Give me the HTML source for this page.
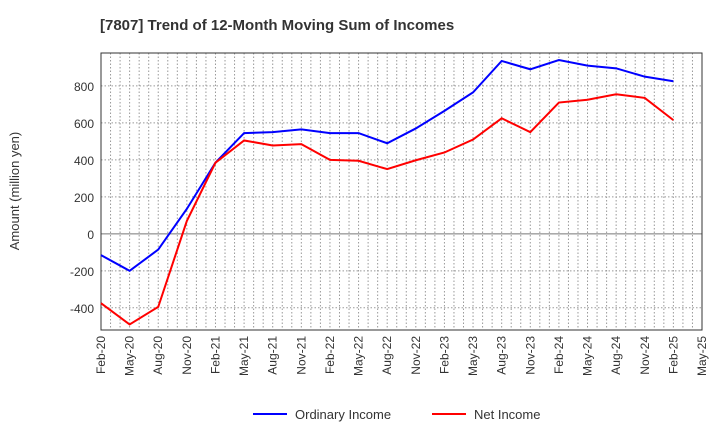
<!DOCTYPE html>
<html><head><meta charset="utf-8"><style>
body{margin:0;background:#fff;font-family:"Liberation Sans",sans-serif}
</style></head><body>
<svg width="720" height="440" xmlns="http://www.w3.org/2000/svg" font-family="Liberation Sans, sans-serif">
<text x="100" y="30" font-size="15" font-weight="bold" fill="#333">[7807]  Trend of 12-Month Moving Sum of Incomes</text>
<g id="grid"></g>
<g id="axes"></g>
<g id="series"></g>
<text transform="translate(19,191) rotate(-90)" text-anchor="middle" font-size="13" fill="#333">Amount (million yen)</text>
<g>
<line x1="253" y1="414" x2="287" y2="414" stroke="#0000ff" stroke-width="2"/>
<text x="295" y="419" font-size="13" fill="#333">Ordinary Income</text>
<line x1="432" y1="414" x2="466" y2="414" stroke="#ff0000" stroke-width="2"/>
<text x="474" y="419" font-size="13" fill="#333">Net Income</text>
</g>
</svg>
<script>
const categories=["Feb-20","May-20","Aug-20","Nov-20","Feb-21","May-21","Aug-21","Nov-21","Feb-22","May-22","Aug-22","Nov-22","Feb-23","May-23","Aug-23","Nov-23","Feb-24","May-24","Aug-24","Nov-24","Feb-25","May-25"];
const ordinaryIncome=[-115,-200,-85,135,385,545,550,565,545,545,490,570,665,765,935,890,940,910,895,850,825];
const netIncome=[-375,-490,-395,70,385,505,478,485,400,395,350,398,440,510,625,550,710,725,755,735,615];
const yTicks=[-400,-200,0,200,400,600,800];
const NS="http://www.w3.org/2000/svg";
const L=101,R=702,T=53,B=330,yMin=-520,yMax=978;
const x=i=>L+(R-L)*i/(categories.length-1);
const y=v=>B-(v-yMin)/(yMax-yMin)*(B-T);
function mk(p,t,a){const e=document.createElementNS(NS,t);for(const k in a)e.setAttribute(k,a[k]);p.appendChild(e);return e;}
const grid=document.getElementById('grid'),axes=document.getElementById('axes'),ser=document.getElementById('series');
for(let m=1;m<(categories.length-1)*3;m++){const xx=L+(R-L)*m/((categories.length-1)*3);
const g=mk(grid,'line',{x1:xx,x2:xx,y1:T,y2:B,stroke:'#999','stroke-dasharray':'1.5,2','stroke-width':1});

}
yTicks.forEach(v=>{const g=mk(grid,'line',{x1:L,x2:R,y1:y(v),y2:y(v),stroke:v===0?'#777':'#999','stroke-dasharray':v===0?'':'1.5,2','stroke-width':1});


const t=mk(axes,'text',{x:L-7,y:y(v)+5,'text-anchor':'end','font-size':12,fill:'#333'});t.textContent=v;

});
const fr=mk(axes,'rect',{x:L,y:T,width:R-L,height:B-T,fill:'none',stroke:'#333','stroke-width':1});


categories.forEach((c,i)=>{const t=mk(axes,'text',{transform:`translate(${x(i)+4},${B+6}) rotate(-90)`,'text-anchor':'end','font-size':12,fill:'#333'});t.textContent=c;

});
function line(d,col,name){const p=mk(ser,'polyline',{points:d.map((v,i)=>x(i)+','+y(v)).join(' '),fill:'none',stroke:col,'stroke-width':2});

}
line(ordinaryIncome,'#0000ff','ordinary-income-line');
line(netIncome,'#ff0000','net-income-line');
</script>
</body></html>
